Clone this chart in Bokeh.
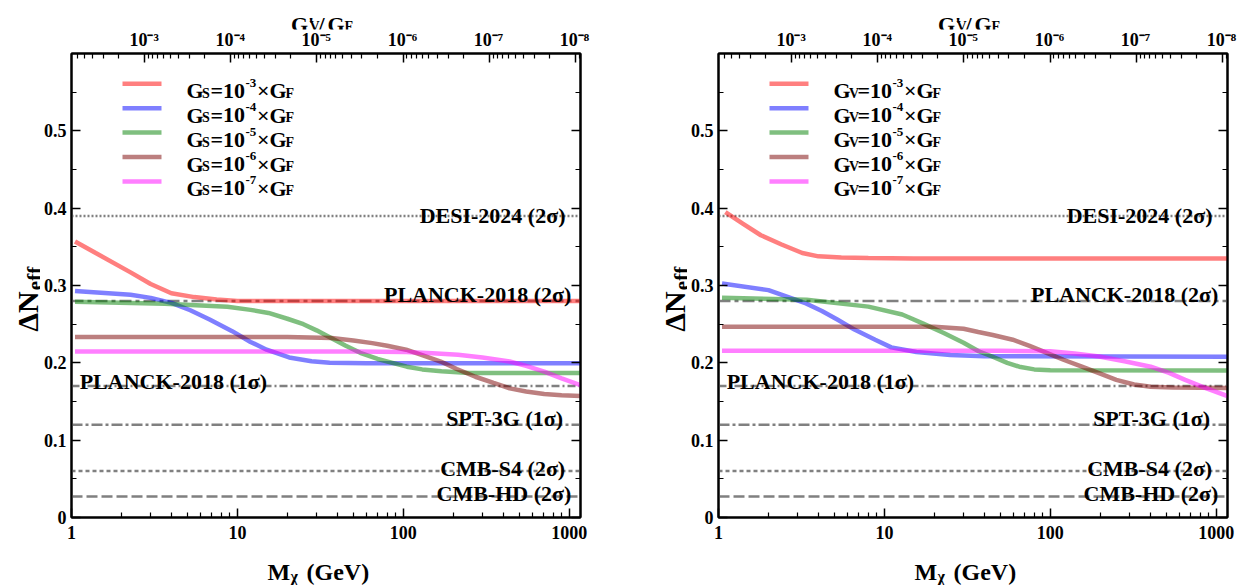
import math
from bokeh.plotting import figure
from bokeh.models import (Range1d, LogAxis, LinearAxis, LogScale, FixedTicker,
                          CustomJSTickFormatter, Label, Span)
from bokeh.layouts import row, column
from bokeh.embed import file_html
from bokeh.resources import INLINE

FONT = "Liberation Serif"

# ---------------- data ----------------
x_ticks = [1, 10, 100, 1000]
x_minor = [m * 10 ** e for e in range(0, 3) for m in range(2, 10)]
y_ticks = [0, 0.1, 0.2, 0.3, 0.4, 0.5]
y_minor = [0.05, 0.15, 0.25, 0.35, 0.45, 0.55]
top_ticks = [1e-3, 1e-4, 1e-5, 1e-6, 1e-7, 1e-8]
top_minor = [m * 10.0 ** e for e in range(-9, -2) for m in range(2, 10)]

X_MIN, X_MAX = 1.0, 1170.0
Y_MIN, Y_MAX = 0.0, 0.6
TOP_START, TOP_END = 10 ** -2.156, 10 ** -8.058

exponents = ["-3", "-4", "-5", "-6", "-7"]
colors = ["#ff0000", "#0000ff", "#008000", "#7a0000", "#ff00ff"]

# scalar coupling panel (G_S)
s_red_m = [1.05, 1.4, 2.27, 3.0, 4.0, 5.5, 7.5, 10, 20, 100, 1170]
s_red_y = [0.357, 0.342, 0.317, 0.302, 0.290, 0.285, 0.282, 0.280, 0.280, 0.280, 0.280]
s_blue_m = [1.05, 2.27, 3.0, 4.0, 5.2, 6.8, 9.3, 12, 15, 20.5, 28, 36, 60, 1170]
s_blue_y = [0.293, 0.288, 0.284, 0.2775, 0.268, 0.256, 0.241, 0.227, 0.217, 0.207, 0.202, 0.200, 0.1995, 0.1995]
s_green_m = [1.05, 3.66, 8.7, 12, 15.4, 20, 25, 30, 36, 45, 55, 70, 86, 105, 130, 170, 250, 1170]
s_green_y = [0.279, 0.2765, 0.2725, 0.2685, 0.2645, 0.257, 0.250, 0.242, 0.233, 0.222, 0.213, 0.205, 0.200, 0.195, 0.1915, 0.189, 0.187, 0.187]
s_brown_m = [1.05, 20, 37, 50, 65, 80, 104, 130, 168, 210, 272, 350, 438, 550, 707, 900, 1170]
s_brown_y = [0.2334, 0.2333, 0.232, 0.229, 0.2255, 0.222, 0.217, 0.210, 0.2017, 0.192, 0.182, 0.174, 0.167, 0.163, 0.1597, 0.158, 0.157]
s_pink_m = [1.05, 50, 104, 150, 214, 300, 438, 550, 707, 900, 1170]
s_pink_y = [0.2145, 0.2145, 0.214, 0.2125, 0.2104, 0.207, 0.2017, 0.196, 0.1887, 0.180, 0.171]

# vector coupling panel (G_V)
v_red_m = [1.1, 1.4, 1.8, 2.4, 3.2, 4.0, 5.5, 8, 15, 1170]
v_red_y = [0.395, 0.380, 0.365, 0.353, 0.342, 0.3377, 0.3362, 0.3355, 0.335, 0.335]
v_blue_m = [1.05, 2.0, 3.37, 4.2, 5.2, 6.6, 8.8, 11, 15.6, 25, 40, 1170]
v_blue_y = [0.3025, 0.294, 0.2768, 0.267, 0.256, 0.243, 0.2299, 0.220, 0.2139, 0.210, 0.2085, 0.208]
v_green_m = [1.05, 3.4, 8, 12.8, 14, 17, 22.8, 30, 37, 44.6, 55, 65, 80, 100, 1170]
v_green_y = [0.284, 0.2815, 0.2727, 0.2625, 0.259, 0.251, 0.2385, 0.226, 0.215, 0.2082, 0.200, 0.195, 0.1915, 0.1905, 0.190]
v_brown_m = [1.05, 20, 30, 36.8, 45, 59.4, 75, 96, 120, 155, 200, 250, 320, 403, 550, 1170]
v_brown_y = [0.2468, 0.2466, 0.244, 0.2398, 0.236, 0.2299, 0.222, 0.2126, 0.204, 0.195, 0.186, 0.178, 0.172, 0.169, 0.168, 0.1675]
v_pink_m = [1.05, 50, 100, 140, 197, 280, 403, 520, 650, 850, 1170]
v_pink_y = [0.2156, 0.2156, 0.215, 0.212, 0.2082, 0.202, 0.195, 0.187, 0.178, 0.168, 0.157]

ref_values = [0.39, 0.28, 0.17, 0.12, 0.06, 0.027]
ref_names = ["DESI-2024 (2σ)", "PLANCK-2018 (2σ)", "PLANCK-2018 (1σ)",
             "SPT-3G (1σ)", "CMB-S4 (2σ)", "CMB-HD (2σ)"]
ref_dashes = ["2 2", "12 4 4 4", "8 3 2 3", "11 3 3 3", "4 3", "11 4"]
ref_label_pos = [(950, 0.390, "right"), (1030, 0.2885, "right"), (1.12, 0.1758, "left"),
                 (918, 0.128, "right"), (946, 0.0638, "right"), (1030, 0.0307, "right")]

# ---------------- layout constants (pixels) ----------------
FW, FH = 509, 464
LM, RM, TM, BM = 30, 20, 1, 30       # main figure borders
HT, HT_AX = 52, 22                   # top strip (title + top tick labels)
HB = 38                              # bottom title strip
WY_A, WY_B = 40, 87                  # y-title strips
COL_W = LM + FW + RM
TOT_H = HT + TM + FH + BM + HB

SUP_JS = """
    const sup = {"-":"\u207b","0":"\u2070","1":"\u00b9","2":"\u00b2","3":"\u00b3","4":"\u2074",
                 "5":"\u2075","6":"\u2076","7":"\u2077","8":"\u2078","9":"\u2079"};
    const e = String(Math.round(Math.log10(tick)));
    return "10" + e.split("").map(c => sup[c]).join("");
"""


def fx(px):
    return 10 ** (px / FW * math.log10(X_MAX / X_MIN)) * X_MIN


def fy(py):
    return Y_MIN + py / FH * (Y_MAX - Y_MIN)


def lab(p, text, x, y, size, angle=0.0, align="left", baseline="alphabetic"):
    p.add_layout(Label(x=x, y=y, x_units="screen", y_units="screen", text=text, angle=angle,
                       text_font=FONT, text_font_style="bold", text_font_size=f"{size}px",
                       text_color="black", text_align=align, text_baseline=baseline))


def style_axis(ax):
    ax.axis_line_width = 2
    ax.axis_line_color = "black"
    ax.major_tick_in = 9
    ax.major_tick_out = 0
    ax.minor_tick_in = 5
    ax.minor_tick_out = 0
    ax.major_tick_line_width = 1.5
    ax.minor_tick_line_width = 1.2
    ax.major_tick_line_color = "black"
    ax.minor_tick_line_color = "black"
    ax.major_label_text_font = FONT
    ax.major_label_text_font_style = "bold"
    ax.major_label_text_font_size = "18px"
    ax.major_label_text_color = "black"


def strip(w, h, bl=0, br=0):
    s = figure(width=w, height=h, x_range=Range1d(0, w), y_range=Range1d(0, h), title=None,
               output_backend="svg", toolbar_location=None,
               x_axis_location=None, y_axis_location=None,
               min_border_left=bl, min_border_right=br, min_border_top=0, min_border_bottom=0)
    s.grid.visible = False
    s.outline_line_color = None
    s.background_fill_color = "white"
    s.border_fill_color = "white"
    return s


def make_top():
    t = figure(width=COL_W, height=HT, x_axis_type="log", x_range=Range1d(TOP_START, TOP_END),
               y_range=Range1d(0, 1), title=None, output_backend="svg", toolbar_location=None,
               x_axis_location="below", y_axis_location=None,
               min_border_left=LM, min_border_right=RM, min_border_top=0, min_border_bottom=HT_AX)
    t.grid.visible = False
    t.outline_line_color = None
    t.background_fill_color = "white"
    t.border_fill_color = "white"
    ax = t.below[0]
    style_axis(ax)
    ax.ticker = FixedTicker(ticks=top_ticks, minor_ticks=[])
    ax.formatter = CustomJSTickFormatter(code=SUP_JS)
    ax.axis_line_color = None
    ax.major_tick_in = 0
    ax.minor_tick_in = 0
    ax.major_label_standoff = 0
    ax.major_label_text_line_height = 1.0
    # axis title G'_V / G_F (positions relative to the plot frame)
    lab(t, "G'", 219.4, 5, 22)
    lab(t, "V", 238, 3.5, 14)
    lab(t, "/", 247, 5, 22)
    lab(t, "G", 256, 5, 22)
    lab(t, "F", 273, 3.5, 14)
    return t


def make_panel(curves, letter):
    p = figure(x_axis_type="log", x_range=Range1d(X_MIN, X_MAX), y_range=Range1d(Y_MIN, Y_MAX),
               title=None, frame_width=FW, frame_height=FH, output_backend="svg",
               toolbar_location=None,
               min_border_left=LM, min_border_right=RM, min_border_top=TM, min_border_bottom=BM,
               background_fill_color="white", border_fill_color="white")
    p.grid.visible = False
    p.outline_line_color = "black"
    p.outline_line_width = 2

    xa = p.below[0]
    ya = p.left[0]
    xa.ticker = FixedTicker(ticks=x_ticks, minor_ticks=x_minor)
    xa.formatter = CustomJSTickFormatter(code="return String(Math.round(tick));")
    ya.ticker = FixedTicker(ticks=y_ticks, minor_ticks=y_minor)
    ya.formatter = CustomJSTickFormatter(code="return tick == 0 ? '0' : tick.toFixed(1);")

    p.extra_x_ranges = {"top": Range1d(TOP_START, TOP_END)}
    p.extra_x_scales = {"top": LogScale()}
    top = LogAxis(x_range_name="top")
    top.ticker = FixedTicker(ticks=top_ticks, minor_ticks=top_minor)
    p.add_layout(top, "above")

    right = LinearAxis()
    right.ticker = FixedTicker(ticks=y_ticks, minor_ticks=y_minor)
    p.add_layout(right, "right")

    for ax in [xa, ya, top, right]:
        style_axis(ax)
    for ax in [top, right]:
        ax.formatter = CustomJSTickFormatter(code="return '';")
        ax.major_label_text_font_size = "0px"
        ax.major_label_standoff = 0
    xa.major_label_standoff = 8
    ya.major_label_standoff = 5

    # reference lines
    for v, d in zip(ref_values, ref_dashes):
        p.add_layout(Span(location=v, dimension="width", line_color="#808080",
                          line_width=2.5, line_dash=d, level="underlay"))
    for name, (lx, ly, al) in zip(ref_names, ref_label_pos):
        p.add_layout(Label(x=lx, y=ly, text=name, text_font=FONT, text_font_style="bold",
                           text_font_size="22px", text_color="black", text_align=al,
                           text_baseline="alphabetic"))

    # curves
    for (mx, my), c in zip(curves, colors):
        p.line(mx, my, line_color=c, line_alpha=0.5, line_width=4.5)

    # legend
    for i, (c, ex) in enumerate(zip(colors, exponents)):
        cy = 433.7 - i * 24.4
        p.line([fx(51), fx(90)], [fy(cy), fy(cy)], line_color=c, line_alpha=0.5, line_width=4.5)
        b = cy - 7
        lab(p, "G", 115, b, 22)
        lab(p, letter, 130.5, b - 2.5, 14)
        lab(p, "=", 139, b, 22)
        lab(p, "10", 151.5, b, 22)
        lab(p, ex, 174, b + 8, 13)
        lab(p, "×", 185.5, b, 22)
        lab(p, "G", 198, b, 22)
        lab(p, "F", 214, b - 2.5, 14)
    return p


def make_column(curves, letter):
    p = make_panel(curves, letter)
    t = make_top()
    b = strip(COL_W, HB, LM, RM)
    # positions relative to the plot frame (aligned with the panel above)
    lab(b, "M", 196, 14, 24)
    lab(b, "χ", 219, 9.5, 16)
    lab(b, "(GeV)", 235, 14, 24)
    return column(t, p, b)


def make_ylab(w):
    s = strip(w, TOT_H)
    xc = w - 13
    lab(s, "ΔN", xc, TOT_H - 311, 30, angle=math.pi / 2, align="center", baseline="middle")
    lab(s, "eff", xc + 7, TOT_H - 278, 21, angle=math.pi / 2, align="center", baseline="middle")
    return s


scalar_curves = [(s_red_m, s_red_y), (s_blue_m, s_blue_y), (s_green_m, s_green_y),
                 (s_brown_m, s_brown_y), (s_pink_m, s_pink_y)]
vector_curves = [(v_red_m, v_red_y), (v_blue_m, v_blue_y), (v_green_m, v_green_y),
                 (v_brown_m, v_brown_y), (v_pink_m, v_pink_y)]

layout = row(make_ylab(WY_A), make_column(scalar_curves, "S"),
             make_ylab(WY_B), make_column(vector_curves, "V"))
open("out.html", "w").write(file_html(layout, INLINE))
